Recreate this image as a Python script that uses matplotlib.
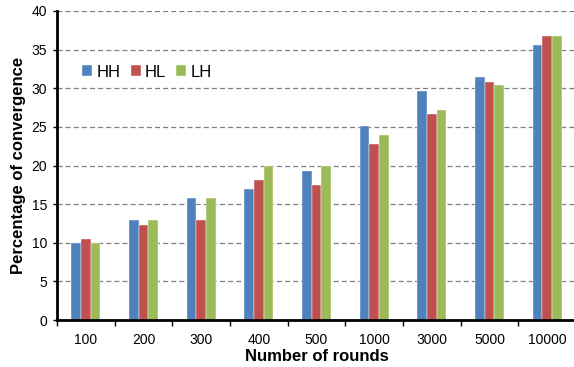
import numpy as np
import matplotlib.pyplot as plt
from matplotlib.ticker import FixedLocator

plt.rcParams['font.family'] = ['Liberation Sans', 'DejaVu Sans']

rounds = ['100', '200', '300', '400', '500', '1000', '3000', '5000', '10000']
hh = [10.0, 12.9, 15.8, 16.9, 19.3, 25.1, 29.6, 31.4, 35.6]
hl = [10.5, 12.3, 12.9, 18.1, 17.5, 22.8, 26.7, 30.8, 36.8]
lh = [10.0, 12.9, 15.8, 19.9, 19.9, 24.0, 27.2, 30.4, 36.8]

series = [('HH', hh, '#4F81BD'), ('HL', hl, '#C0504D'), ('LH', lh, '#9BBB59')]

fig = plt.figure(figsize=(5.74, 3.67), dpi=100)
ax = fig.add_axes([57 / 574, 1 - 320 / 367, 519 / 574, 309 / 367])

x = np.arange(len(rounds))
w = 0.168
for i, (name, vals, col) in enumerate(series):
    ax.bar(x + (i - 1) * w, vals, width=w, color=col, label=name,
           edgecolor='white', linewidth=0.3, zorder=3)

ax.set_xlim(-0.5, len(rounds) - 0.5)
ax.set_ylim(0, 40)
ax.set_yticks(np.arange(0, 41, 5))
ax.set_xticks(x)
ax.set_xticklabels(rounds)
ax.xaxis.set_minor_locator(FixedLocator(np.arange(-0.5, len(rounds), 1)))
ax.tick_params(axis='x', which='major', length=0, pad=9, labelsize=10)
ax.tick_params(axis='x', which='minor', length=4, width=1, direction='out')
ax.tick_params(axis='y', length=3, width=1, labelsize=10, pad=4)

ax.yaxis.grid(True, linestyle=(0, (4, 2.5)), color='#7f7f7f', linewidth=0.9, zorder=0)
ax.set_axisbelow(True)

for s in ['top', 'right']:
    ax.spines[s].set_visible(False)
for s in ['left', 'bottom']:
    ax.spines[s].set_linewidth(2)
    ax.spines[s].set_zorder(4)

ax.set_xlabel('Number of rounds', fontsize=12, fontweight='bold', labelpad=2)
ax.set_ylabel('Percentage of convergence', fontsize=12, fontweight='bold', labelpad=4)

ax.legend(loc='upper left', bbox_to_anchor=(0.02, 0.875), ncol=3, frameon=False,
          fontsize=12, handlelength=0.6, handleheight=0.6, handletextpad=0.25,
          columnspacing=0.6)

fig.savefig('out.png', dpi=100)
